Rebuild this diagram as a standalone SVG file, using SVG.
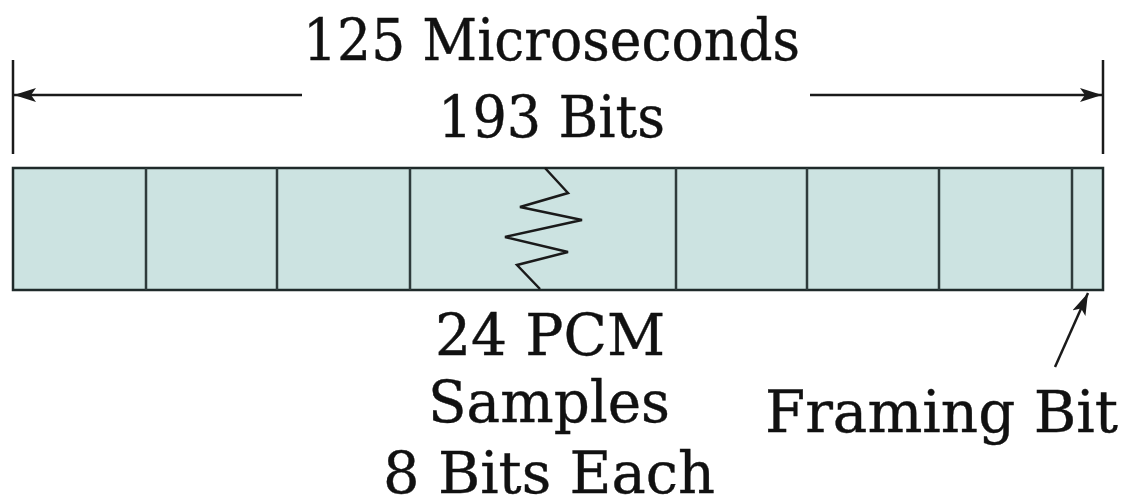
<svg xmlns="http://www.w3.org/2000/svg" width="1128" height="499" viewBox="0 0 1128 499">
<defs>
<marker id="ah" viewBox="0 0 22 14" refX="22" refY="7" markerWidth="22" markerHeight="14" markerUnits="userSpaceOnUse" orient="auto">
<path d="M0,0 L22,7 L0,14 L5,7 Z" fill="#1a1a1a"/>
</marker>
</defs>
<style>
.t{font-family:"DejaVu Serif","Liberation Serif",serif;font-size:58px;fill:#111;stroke:#111;stroke-width:0.4;}
.c{text-anchor:middle;}
.div{stroke:#2e3b3b;stroke-width:2.5;fill:none;}
.ln{stroke:#1a1a1a;stroke-width:2.5;fill:none;}
</style>
<rect width="1128" height="499" fill="#fff"/>
<g id="dimension">
<line class="ln" x1="13" y1="60" x2="13" y2="154"/>
<line class="ln" x1="1103" y1="60" x2="1103" y2="154" stroke="#333"/>
<text class="t c" x="551.5" y="60" textLength="497" lengthAdjust="spacingAndGlyphs">125 Microseconds</text>
<text class="t c" x="551.5" y="137" textLength="227" lengthAdjust="spacingAndGlyphs">193 Bits</text>
</g>
<g id="connectors">
<line class="ln" x1="302" y1="95" x2="14" y2="95" marker-end="url(#ah)"/>
<line class="ln" x1="810" y1="95" x2="1102" y2="95" marker-end="url(#ah)"/>
<line class="ln" x1="1055" y1="367" x2="1088" y2="293" marker-end="url(#ah)"/>
</g>
<g id="frame">
<rect x="13" y="168" width="1090" height="122" fill="#cce3e1" stroke="#1f2a2a" stroke-width="2.5"/>
<line class="div" x1="146" y1="168" x2="146" y2="290"/>
<line class="div" x1="277" y1="168" x2="277" y2="290"/>
<line class="div" x1="410" y1="168" x2="410" y2="290"/>
<line class="div" x1="676" y1="168" x2="676" y2="290"/>
<line class="div" x1="807" y1="168" x2="807" y2="290"/>
<line class="div" x1="939" y1="168" x2="939" y2="290"/>
<line class="div" x1="1072" y1="168" x2="1072" y2="290"/>
<polyline class="ln" stroke-width="3" points="545,168 568,193 520,207 582,220 505,237 568,252 517,265 540,289"/>
</g>
<g id="samples-label">
<text class="t c" x="550" y="355" textLength="230" lengthAdjust="spacingAndGlyphs">24 PCM</text>
<text class="t c" x="549" y="422" textLength="242" lengthAdjust="spacingAndGlyphs">Samples</text>
<text class="t c" x="549" y="493" textLength="332" lengthAdjust="spacingAndGlyphs">8 Bits Each</text>
</g>
<g id="framing-label">
<text class="t" x="765" y="432" textLength="353" lengthAdjust="spacingAndGlyphs">Framing Bit</text>
</g>
</svg>
